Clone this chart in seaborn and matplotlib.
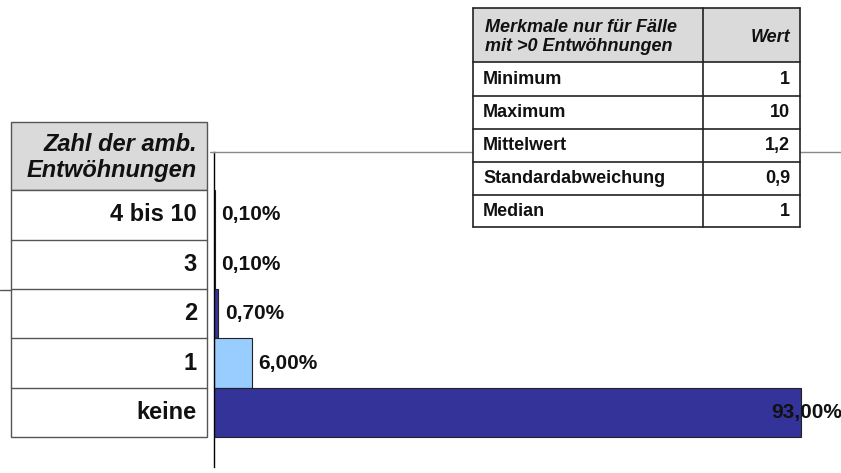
import matplotlib
matplotlib.use("Agg")
import matplotlib.pyplot as plt
import matplotlib.transforms as mtransforms
from matplotlib.patches import Rectangle
from matplotlib.lines import Line2D
import seaborn as sns
import pandas as pd

# ---- data ----
categories = ["4 bis 10", "3", "2", "1", "keine"]
values = [0.1, 0.1, 0.7, 6.0, 93.0]
value_labels = ["0,10%", "0,10%", "0,70%", "6,00%", "93,00%"]
bar_colors = ["#333399", "#99CCFF", "#333399", "#99CCFF", "#333399"]
left_header = "Zahl der amb.\nEntwöhnungen"
stat_header = ["Merkmale nur für Fälle\nmit >0 Entwöhnungen", "Wert"]
stat_names = ["Minimum", "Maximum", "Mittelwert", "Standardabweichung", "Median"]
stat_values = ["1", "10", "1,2", "0,9", "1"]

sns.set_theme(style="white")
plt.rcParams["font.family"] = ["Liberation Sans", "DejaVu Sans"]

W, H = 841, 473
fig = plt.figure(figsize=(W / 100, H / 100), dpi=100)
fig.patch.set_facecolor("white")

def fx(x):
    return x / W

def fy(y):
    return 1 - y / H

ax = fig.add_axes([fx(214), fy(467), fx(841) - fx(214), fy(152) - fy(467)])

df = pd.DataFrame({"cat": categories, "val": values})
sns.barplot(data=df, x="val", y="cat", hue="cat", palette=bar_colors,
            order=categories, hue_order=categories, orient="h",
            width=1.0, saturation=1, edgecolor="#222222", linewidth=0.8,
            legend=False, ax=ax)

ax.set_xlim(0, 99.4)
ax.set_ylim(5.1, -1.27)
ax.set_xlabel("")
ax.set_ylabel("")
ax.set_xticks([])
ax.set_yticks([])
for s in ["right", "bottom"]:
    ax.spines[s].set_visible(False)
ax.spines["left"].set_color("black")
ax.spines["left"].set_linewidth(1.0)
ax.spines["top"].set_color("#8a8a8a")
ax.spines["top"].set_linewidth(1.0)
fig.add_artist(Line2D([fx(210), fx(214)], [fy(152), fy(152)], color="#8a8a8a",
                      linewidth=1.0))

# value labels
for i, (v, lab) in enumerate(zip(values, value_labels)):
    if v > 50:
        ax.text(99.5, i, lab, ha="right", va="center", fontsize=15,
                fontweight="bold", color="#111111", clip_on=False)
    else:
        ax.annotate(lab, xy=(v, i), xytext=(4.5, 0), textcoords="offset points",
                    ha="left", va="center", fontsize=15, fontweight="bold",
                    color="#111111")

# ---- left table (rows aligned to category bands) ----
tr = mtransforms.blended_transform_factory(fig.transFigure, ax.transData)
lx0, lx1 = fx(11), fx(207)
hdr_top = -0.5 - 68 / 49.5
ax.add_patch(Rectangle((lx0, hdr_top), lx1 - lx0, -0.5 - hdr_top,
                       transform=tr, facecolor="#DADADA", edgecolor="#555555",
                       linewidth=1.0, clip_on=False))
ax.add_patch(Rectangle((lx0, -0.5), lx1 - lx0, len(categories),
                       transform=tr, facecolor="white", edgecolor="#555555",
                       linewidth=1.0, clip_on=False))
for i in range(1, len(categories)):
    ax.add_line(Line2D([lx0, lx1], [i - 0.5, i - 0.5], transform=tr,
                       color="#555555", linewidth=1.0, clip_on=False))
ax.text(fx(197), (hdr_top - 0.5) / 2 + 0.03, left_header, transform=tr, ha="right",
        va="center", fontsize=17, fontweight="bold", fontstyle="italic",
        linespacing=1.15, color="#111111")
for i, c in enumerate(categories):
    ax.text(fx(197), i, c, transform=tr, ha="right", va="center",
            fontsize=17, fontweight="bold", color="#111111")

# small stray line at left
fig.add_artist(Line2D([fx(0), fx(11)], [fy(290), fy(290)], color="#555555",
                      linewidth=1.0))

# ---- top right table ----
tx0, tx1, tcol = 473, 800, 703
rows_y = [8, 62, 96, 129, 162, 195, 227]
fig.add_artist(Rectangle((fx(tx0), fy(rows_y[1])), fx(tx1) - fx(tx0),
                         fy(rows_y[0]) - fy(rows_y[1]), transform=fig.transFigure,
                         facecolor="#DADADA", edgecolor="none"))
fig.add_artist(Rectangle((fx(tx0), fy(rows_y[-1])), fx(tx1) - fx(tx0),
                         fy(rows_y[1]) - fy(rows_y[-1]), transform=fig.transFigure,
                         facecolor="white", edgecolor="none"))
for yy in rows_y:
    fig.add_artist(Line2D([fx(tx0), fx(tx1)], [fy(yy), fy(yy)],
                          color="#222222", linewidth=1.2))
for xx in [tx0, tcol, tx1]:
    fig.add_artist(Line2D([fx(xx), fx(xx)], [fy(rows_y[0]), fy(rows_y[-1])],
                          color="#222222", linewidth=1.2))
hy = (rows_y[0] + rows_y[1]) / 2 + 2
fig.text(fx(485), fy(hy), stat_header[0], ha="left", va="center", fontsize=13,
         fontweight="bold", fontstyle="italic", linespacing=1.12, color="#111111")
fig.text(fx(790), fy(hy), stat_header[1], ha="right", va="center", fontsize=13,
         fontweight="bold", fontstyle="italic", color="#111111")
for k, (n, v) in enumerate(zip(stat_names, stat_values)):
    cy = (rows_y[k + 1] + rows_y[k + 2]) / 2
    fig.text(fx(483), fy(cy), n, ha="left", va="center", fontsize=13,
             fontweight="bold", color="#111111")
    fig.text(fx(790), fy(cy), v, ha="right", va="center", fontsize=13,
             fontweight="bold", color="#111111")

fig.savefig("out.png", dpi=100, facecolor="white")
